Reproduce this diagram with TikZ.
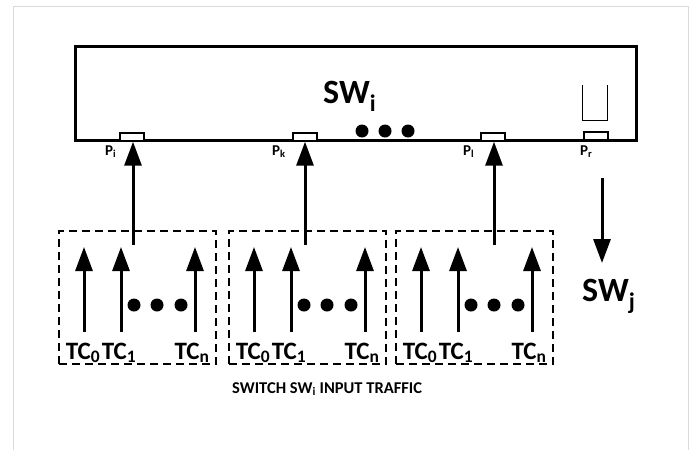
\documentclass[tikz,border=0pt]{standalone}
\usepackage{fontspec}
\setmainfont{Carlito}
\usetikzlibrary{arrows.meta}
\begin{document}
\begin{tikzpicture}[x=1pt,y=-1pt,
  tcarrow/.style={line width=3pt,-{Triangle[width=17pt,length=24pt]}},
  portbox/.style={draw,line width=1.4pt,fill=white,minimum width=24pt,minimum height=8pt,inner sep=0pt},
  tcbox/.style={draw,dash pattern=on 8pt off 5pt,line width=1.3pt,minimum width=157pt,minimum height=133pt,inner sep=0pt},
  blackdot/.style={circle,fill=black,minimum size=13pt,inner sep=0pt},
  plbl/.style={font=\bfseries\fontsize{15}{15}\selectfont,inner sep=0pt,anchor=base west},
  tclbl/.style={font=\bfseries\fontsize{25}{25}\selectfont,inner sep=0pt,anchor=base},
  bigtxt/.style={font=\bfseries\fontsize{34}{34}\selectfont,inner sep=0pt,anchor=base west}]
\useasboundingbox (0,0) rectangle (700,450);
\draw[black!15,line width=1pt] (13,450) -- (13,6) -- (688,6) -- (688,450);
% switch
\node[draw,line width=3pt,minimum width=561pt,minimum height=94pt,inner sep=0pt] (sw) at (355.5,93) {};
\node[bigtxt] (swi) at (323,103) {SW\textsubscript{i}};
\node[blackdot] (d1) at (362,131) {};
\node[blackdot] (d2) at (385,131) {};
\node[blackdot] (d3) at (408,131) {};
\draw[line width=1pt] (582,85) -- (582,120) -- (607,120) -- (607,85);
% ports
\node[portbox] (pi) at (132,137) {};
\node[portbox] (pk) at (305,137) {};
\node[portbox] (pl) at (493,137) {};
\node[portbox] (pr) at (596,136) {};
\node[plbl] (lpi) at (105,155) {P\textsubscript{i}};
\node[plbl] (lpk) at (272,155) {P\textsubscript{k}};
\node[plbl] (lpl) at (463,155) {P\textsubscript{l}};
\node[plbl] (lpr) at (580,155) {P\textsubscript{r}};
% output
\coordinate (o1) at (602,178);
\coordinate (o2) at (602,263);
\draw[tcarrow] (o1) -- (o2);
\node[bigtxt] (swj) at (582,301) {SW\textsubscript{j}};
% traffic boxes
\foreach \n/\L/\ax/\px in {1/59/133/pi,2/229/305/pk,3/396/494/pl}{
  \node[tcbox] (box\n) at (\L+78.5,297.5) {};
  \coordinate (s\n) at (\ax,245);
  \draw[tcarrow] (s\n) -- (\px.south -| s\n);
  \coordinate (a\n0) at (\L+25,332);
  \coordinate (a\n1) at (\L+62,332);
  \coordinate (a\n2) at (\L+136,332);
  \coordinate (b\n0) at (\L+25,247);
  \coordinate (b\n1) at (\L+62,247);
  \coordinate (b\n2) at (\L+136,247);
  \draw[tcarrow] (a\n0) -- (b\n0);
  \draw[tcarrow] (a\n1) -- (b\n1);
  \draw[tcarrow] (a\n2) -- (b\n2);
  \node[blackdot] (e\n1) at (\L+75,305) {};
  \node[blackdot] (e\n2) at (\L+98,305) {};
  \node[blackdot] (e\n3) at (\L+122,305) {};
  \node[tclbl] (t\n0) at (\L+24,359) {TC\textsubscript{0}};
  \node[tclbl] (t\n1) at (\L+60,359) {TC\textsubscript{1}};
  \node[tclbl] (t\n2) at (\L+133,359) {TC\textsubscript{n}};
}
\node[plbl,font=\bfseries\fontsize{16.5}{16.5}\selectfont] (cap) at (232,393) {SWITCH SW\textsubscript{i} INPUT TRAFFIC};
\end{tikzpicture}
\end{document}
